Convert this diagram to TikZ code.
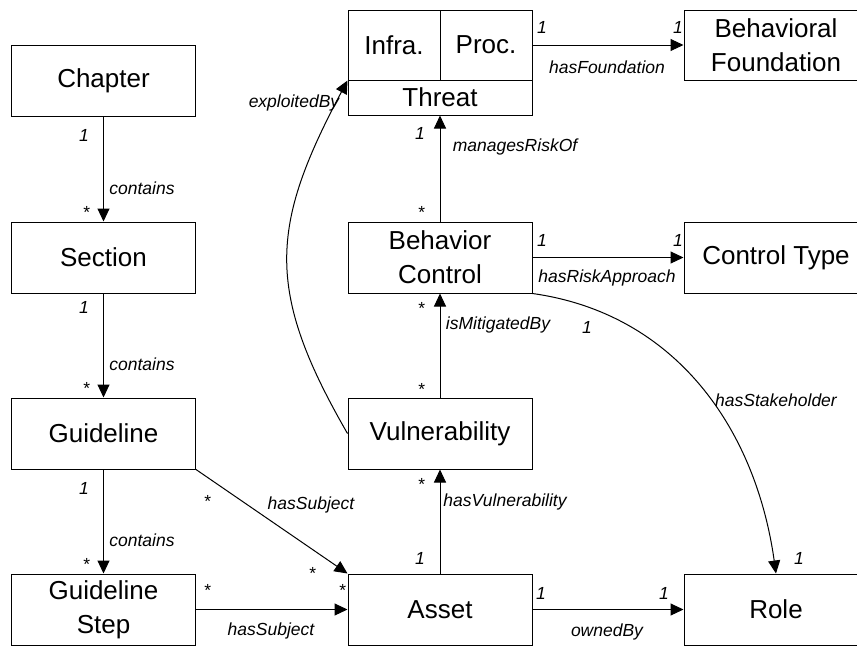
\documentclass[tikz,border=0pt]{standalone}
\usepackage{fontspec}
\setmainfont{Liberation Sans}
\usetikzlibrary{arrows.meta}

\tikzset{
  box/.style={draw, line width=1pt, minimum width=184pt, minimum height=71pt,
    align=center, inner sep=2pt, font=\fontsize{26}{34}\selectfont},
  link/.style={line width=1pt, -{Triangle[length=13pt,width=12pt]}},
  mult/.style={inner sep=0pt, font=\itshape\fontsize{17.5}{20}\selectfont},
}

\begin{document}
\begin{tikzpicture}[x=1pt, y=-1pt]
    \clip (0,0) rectangle (857,646);

    % left column
    \node[box] (chapter) at (103.5,80.5) {Chapter};
    \node[box] (section) at (103.5,257.5) {Section};
    \node[box] (guideline) at (103.5,433.5) {Guideline};
    \node[box] (step) at (103.5,609.5) {Guideline\\Step};

    % middle column
    \node[box, minimum width=92pt, minimum height=70pt] (infra) at (394,45) {Infra.};
    \node[box, minimum width=92pt, minimum height=70pt] (proc) at (486,45) {Proc.};
    \node[box, minimum height=35pt] (threat) at (440,97.5) {Threat};
    \node[box] (control) at (440,257.5) {Behavior\\Control};
    \node[box] (vuln) at (440,433.5) {Vulnerability};
    \node[box] (asset) at (440,609.5) {Asset};

    % right column
    \node[box, minimum height=70pt] (found) at (776,45) {Behavioral\\Foundation};
    \node[box] (ctype) at (776,257.5) {Control Type};
    \node[box] (role) at (776,609.5) {Role};

    % connectors
    \draw[link] (chapter) -- (section);
    \draw[link] (section) -- (guideline);
    \draw[link] (guideline) -- (step);
    \draw[link] (guideline.south east) -- (asset.north west);
    \draw[link] (step) -- (asset);
    \draw[link] (asset) -- (vuln);
    \draw[link] (vuln) -- (control);
    \draw[link] (control) -- (threat);
    \draw[link] (proc.east |- found.west) -- (found.west);
    \draw[link] (control) -- (ctype);
    \draw[link] (asset) -- (role);
    \draw[link] (vuln.west) to[out=120, in=242, looseness=1.2] (infra.south west);
    \draw[link] (control.south east) to[out=-8, in=98] (role.north);

    % contains
    \node[mult] (chapterone) at (84,135) {1};
    \node[mult] (chaptername) at (142,188) {contains};
    \node[mult] (chaptermany) at (86,212) {*};
    \node[mult] (sectionone) at (84,307) {1};
    \node[mult] (sectionname) at (142,364) {contains};
    \node[mult] (sectionmany) at (86,388) {*};
    \node[mult] (guideone) at (84,488) {1};
    \node[mult] (guidename) at (142,540) {contains};
    \node[mult] (guidemany) at (86,564) {*};

    % hasSubject
    \node[mult] (subjmanya) at (207,501) {*};
    \node[mult] (subjnamea) at (311,505) {hasSubject};
    \node[mult] (subjmanyb) at (312,573) {*};
    \node[mult] (stepmanya) at (207,590) {*};
    \node[mult] (stepname) at (271,631) {hasSubject};
    \node[mult] (stepmanyb) at (342,590) {*};

    % middle links
    \node[mult] (vulnone) at (420,558) {1};
    \node[mult] (vulnname) at (505,502) {hasVulnerability};
    \node[mult] (vulnmany) at (421,484) {*};
    \node[mult] (mitmanya) at (421,389) {*};
    \node[mult] (mitname) at (498,325) {isMitigatedBy};
    \node[mult] (mitmanyb) at (421,308) {*};
    \node[mult] (riskmany) at (421,212) {*};
    \node[mult] (riskname) at (515,147) {managesRiskOf};
    \node[mult] (riskone) at (420,133) {1};
    \node[mult] (exploitname) at (294,103) {exploitedBy};

    % right links
    \node[mult] (foundonea) at (542,27) {1};
    \node[mult] (foundname) at (607,67) {hasFoundation};
    \node[mult] (foundoneb) at (678,27) {1};
    \node[mult] (typeonea) at (542,240) {1};
    \node[mult] (typename) at (607,278) {hasRiskApproach};
    \node[mult] (typeoneb) at (678,240) {1};
    \node[mult] (ownonea) at (541,593) {1};
    \node[mult] (ownname) at (607,632) {ownedBy};
    \node[mult] (ownoneb) at (664,593) {1};
    \node[mult] (stakeonea) at (587,327) {1};
    \node[mult] (stakename) at (776,400) {hasStakeholder};
    \node[mult] (stakeoneb) at (799,558) {1};
\end{tikzpicture}
\end{document}
